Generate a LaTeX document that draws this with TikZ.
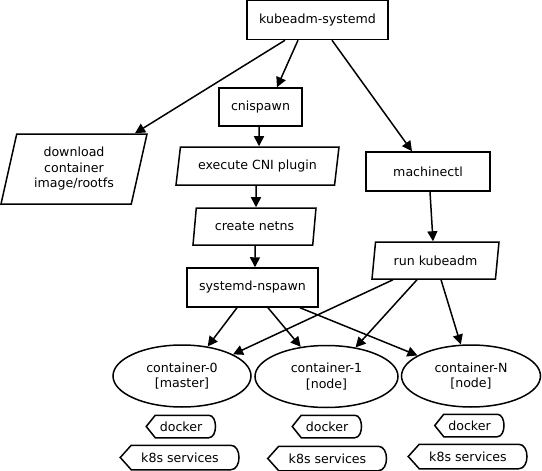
\documentclass[tikz,border=0pt]{standalone}
\usepackage{fontspec}
\setmainfont{DejaVu Sans}
\usetikzlibrary{shapes.geometric,arrows.meta}

\begin{document}
\begin{tikzpicture}[x=1pt,y=-1pt,line width=1.5pt,
  font=\fontsize{12.6}{15.5}\selectfont,
  >={Triangle[length=10pt,width=10pt]},
  box/.style={draw,rectangle,inner sep=0pt},
  para/.style={draw,trapezium,trapezium left angle=70,trapezium right angle=110,
    trapezium stretches body,inner sep=0pt,align=center},
  cont/.style={draw,ellipse,inner sep=0pt,align=center,minimum width=139pt,minimum height=62pt},
  svc/.style={inner sep=0pt}]
  \useasboundingbox (0,0) rectangle (542,471);
  \node[box,minimum width=141pt,minimum height=39pt] (ks) at (317.5,20) {kubeadm-systemd};
  \node[box,minimum width=83pt,minimum height=38pt] (cni) at (260.5,107) {cnispawn};
  \node[para,minimum width=146pt,minimum height=70pt] (dl) at (74,169) {download\\container\\image/rootfs};
  \node[para,minimum width=163pt,minimum height=38pt] (ex) at (257.5,166) {execute CNI plugin};
  \node[box,minimum width=124pt,minimum height=39pt] (mc) at (428,171.5) {machinectl};
  \node[para,minimum width=123pt,minimum height=37pt] (nn) at (254.5,226.5) {create netns};
  \node[para,minimum width=127pt,minimum height=37pt] (rk) at (435.5,260.5) {run kubeadm};
  \node[box,minimum width=131pt,minimum height=39pt] (sn) at (252.5,287.5) {systemd-nspawn};
  \node[cont,minimum width=138pt] (c0) at (182,376) {container-0\\{[master]}};
  \node[cont,minimum width=143pt] (c1) at (326.5,376.5) {container-1\\{[node]}};
  \node[cont] (cN) at (471,376) {container-N\\{[node]}};
  \node[svc,minimum width=68pt,minimum height=21pt] (d0) at (181,426.5) {docker};
  \node[svc,minimum width=68pt,minimum height=21pt] (d1) at (327,426.5) {docker};
  \node[svc,minimum width=68pt,minimum height=21pt] (dN) at (469.5,425.5) {docker};
  \node[svc,minimum width=118pt,minimum height=23pt] (k0) at (180,457.5) {k8s services};
  \node[svc,minimum width=118pt,minimum height=23pt] (k1) at (327.5,458.5) {k8s services};
  \node[svc,minimum width=118pt,minimum height=23pt] (kN) at (468,456.5) {k8s services};
  % outlines of the service shapes
  \foreach \n/\p/\r in {d0/9/7,d1/9/7,dN/9/7,k0/11/9,k1/11/9,kN/11/9}
    \draw (\n.west) -- ([xshift=\p pt]\n.north west) -- ([xshift=-\r pt]\n.north east)
      .. controls ([xshift=2pt]\n.north east) and ([xshift=2pt]\n.south east) .. ([xshift=-\r pt]\n.south east)
      -- ([xshift=\p pt]\n.south west) -- cycle;
  \draw[->] ([xshift=-32.5pt]ks.south) -- ([xshift=61pt]dl.north);
  \draw[->] ([xshift=-19.5pt]ks.south) -- ([xshift=16.5pt]cni.north);
  \draw[->] ([xshift=14.5pt]ks.south) -- ([xshift=-16pt]mc.north);
  \draw[->] ([xshift=-1.5pt]cni.south) -- ([xshift=1.5pt]ex.north);
  \draw[->] ([xshift=-1.5pt]ex.south) -- ([xshift=1.5pt]nn.north);
  \draw[->] ([xshift=2pt]mc.south) -- ([xshift=-2.5pt]rk.north);
  \draw[->] ([xshift=0.5pt]nn.south) -- ([xshift=2.5pt]sn.north);
  \draw[->] ([xshift=-15.5pt]sn.south) -- (c0.49);
  \draw[->] ([xshift=15.5pt]sn.south) -- (c1.131);
  \draw[->] ([xshift=47.5pt]sn.south) -- (cN.159);
  \draw[->] ([xshift=-42.5pt]rk.south) -- (c0.23);
  \draw[->] ([xshift=-18.5pt]rk.south) -- (c1.45);
  \draw[->] ([xshift=5.5pt]rk.south) -- (cN.108);
\end{tikzpicture}
\end{document}
